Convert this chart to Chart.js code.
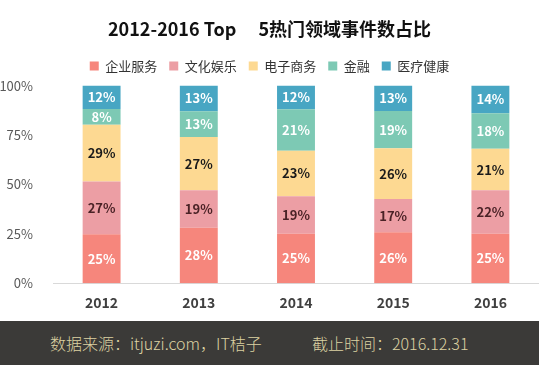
<!DOCTYPE html>
<html>
<head>
<meta charset="utf-8">
<script src="https://cdn.jsdelivr.net/npm/chart.js@4"></script>
<style>
  body { margin: 0; background: #fff; }
  #wrap { width: 539px; height: 365px; position: relative; overflow: hidden; }
  #chartBox { width: 539px; height: 321px; }
  #footer {
    position: absolute; left: 0; top: 321px; width: 539px; height: 44px;
    background: #3b3a38; color: #ddd2a2;
    font-family: "Noto Sans CJK SC", sans-serif; font-size: 16px; font-weight: 300;
    line-height: 44px; white-space: nowrap;
  }
  #footer span { position: absolute; top: 0; }
</style>
</head>
<body>
<div id="wrap">
  <div id="chartBox"><canvas id="barChart"></canvas></div>
  <div id="footer"><span style="left:50px">数据来源：itjuzi.com，IT桔子</span><span style="left:312px">截止时间：2016.12.31</span></div>
</div>
<script>
// data
var years = ["2012", "2013", "2014", "2015", "2016"];
var enterprise = [25, 28, 25, 26, 25];   // 企业服务
var culture = [27, 19, 19, 17, 22];      // 文化娱乐
var ecommerce = [29, 27, 23, 26, 21];    // 电子商务
var finance = [8, 13, 21, 19, 18];       // 金融
var medical = [12, 13, 12, 13, 14];      // 医疗健康
var yTicks = ["0%", "25%", "50%", "75%", "100%"];

var series = [
  { name: "企业服务", values: enterprise, color: "#f6867c", label: "#ffffff" },
  { name: "文化娱乐", values: culture, color: "#ec9ea4", label: "#4a2226" },
  { name: "电子商务", values: ecommerce, color: "#fdd992", label: "#1a1a1a" },
  { name: "金融", values: finance, color: "#7dc9b4", label: "#ffffff" },
  { name: "医疗健康", values: medical, color: "#48a6c3", label: "#ffffff" }
];

// column totals, so each stack fills 100%
var totals = years.map(function (y, i) {
  return series.reduce(function (s, d) { return s + d.values[i]; }, 0);
});

var valueLabels = {
  id: 'valueLabels',
  afterDatasetsDraw: function (chart) {
    var ctx = chart.ctx;
    ctx.save();
    ctx.font = "bold 13px 'Noto Sans CJK SC', sans-serif";
    ctx.textAlign = 'center';
    ctx.textBaseline = 'middle';
    chart.data.datasets.forEach(function (ds, di) {
      chart.getDatasetMeta(di).data.forEach(function (bar, i) {
        ctx.fillStyle = series[di].label;
        ctx.fillText(series[di].values[i] + "%", bar.x, (bar.y + bar.base) / 2);
      });
    });
    ctx.restore();
  }
};

// a bit more room under the legend
var legendGap = {
  id: 'legendGap',
  beforeInit: function (chart) {
    var fit = chart.legend.fit;
    chart.legend.fit = function () {
      fit.bind(chart.legend)();
      this.height += 3;
    };
  }
};

var ctxB = document.getElementById("barChart").getContext('2d');
var myBarChart = new Chart(ctxB, {
  type: 'bar',
  data: {
    labels: years,
    datasets: series.map(function (s) {
      return {
        label: s.name,
        data: s.values.map(function (v, i) { return v / totals[i] * 100; }),
        backgroundColor: s.color,
        borderWidth: 0,
        categoryPercentage: 1,
        barPercentage: 0.39
      };
    })
  },
  options: {
    responsive: true,
    maintainAspectRatio: false,
    animation: false,
    layout: { padding: { left: 0, right: 0, top: 12, bottom: 7 } },
    plugins: {
      title: {
        display: true,
        text: "2012-2016 Top\u3000 5热门领域事件数占比",
        color: '#111',
        font: { family: "'Noto Sans CJK SC', sans-serif", size: 18, weight: 'bold' },
        padding: { top: 6, bottom: 8 }
      },
      legend: {
        labels: {
          color: '#333',
          font: { family: "'Noto Sans CJK SC', sans-serif", size: 13 },
          boxWidth: 9,
          boxHeight: 9,
          padding: 12
        }
      },
      tooltip: { enabled: false }
    },
    scales: {
      x: {
        stacked: true,
        grid: { display: false },
        border: { color: '#d9d9d9' },
        ticks: {
          color: '#404040',
          font: { family: "'Noto Sans CJK SC', sans-serif", size: 14, weight: 'bold' }
        }
      },
      y: {
        stacked: true,
        min: 0,
        max: 100,
        grid: { display: false },
        border: { display: false },
        afterFit: function (scale) { scale.width = 53; },
        ticks: {
          stepSize: 25,
          padding: 12,
          color: '#595959',
          font: { family: "'Noto Sans CJK SC', sans-serif", size: 13 },
          callback: function (v) { return yTicks[v / 25]; }
        }
      }
    }
  },
  plugins: [valueLabels, legendGap]
});
</script>
</body>
</html>
